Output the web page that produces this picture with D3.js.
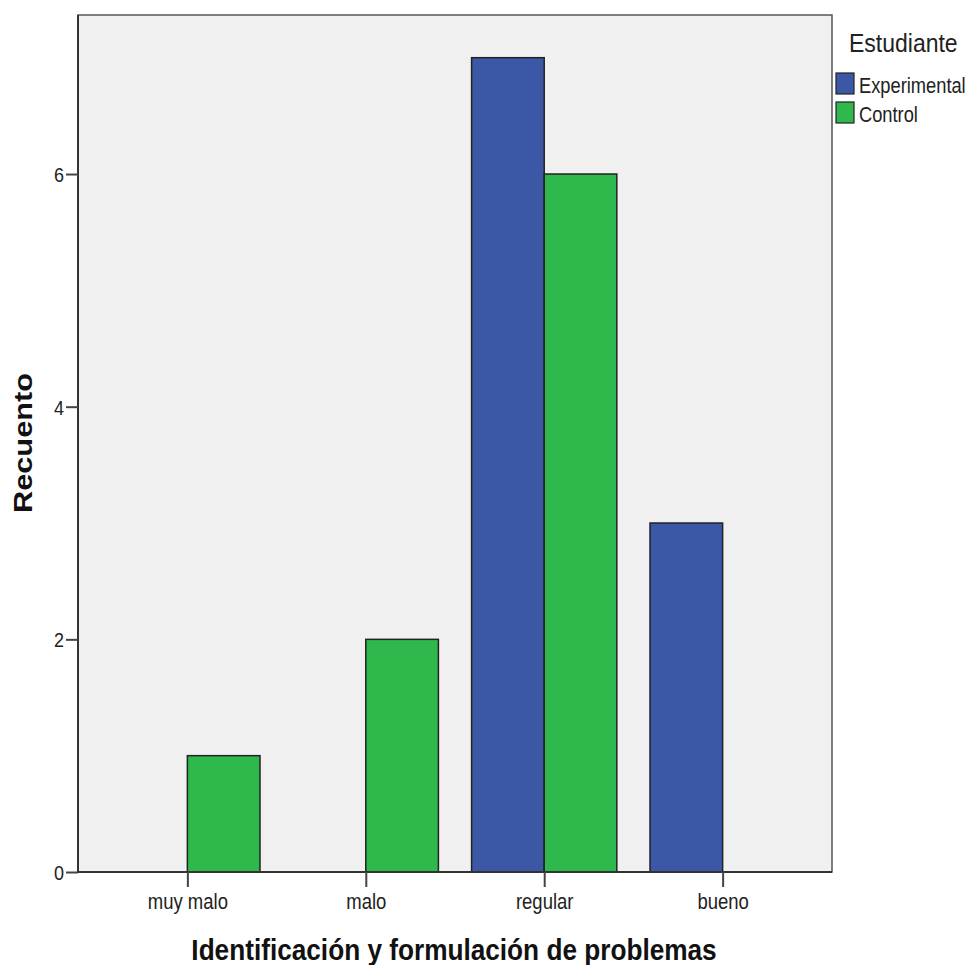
<!DOCTYPE html>
<html><head><meta charset="utf-8">
<script src="https://cdn.jsdelivr.net/npm/d3@7"></script>
<style>html,body{margin:0;padding:0;background:#fff;}svg{display:block;}</style>
</head><body>
<script>
const categories = ["muy malo", "malo", "regular", "bueno"];
const seriesNames = ["Experimental", "Control"];
const experimental = [0, 0, 7, 3];
const control = [1, 2, 6, 0];
const yTicks = [0, 2, 4, 6];
const colors = ["#3d57a7", "#2fb84b"];
const xTitle = "Identificación y formulación de problemas";
const yTitle = "Recuento";
const legendTitle = "Estudiante";

const W = 974, H = 965, SY = 1.16;
const pLeft = 78, pRight = 832, pTop = 15, pBottom = 872;
const svg = d3.select("body").append("svg").attr("width", W).attr("height", H);
const font = "'Liberation Sans', Arial, sans-serif";

const x = d3.scalePoint().domain(categories).range([pLeft, pRight]).padding(0.613);
const barW = x.step() * 0.407;
const y = d3.scaleLinear().domain([0, 7.367]).range([pBottom, pTop]);

svg.append("rect").attr("x", pLeft).attr("y", pTop).attr("width", pRight - pLeft).attr("height", pBottom - pTop)
  .attr("fill", "#f0f0f0").attr("stroke", "#555").attr("stroke-width", 1.5);

const series = [experimental, control];
series.forEach((vals, si) => {
  svg.append("g").selectAll("rect").data(categories.map((c, i) => ({c, v: vals[i]})).filter(d => d.v > 0))
    .join("rect")
    .attr("x", d => x(d.c) + (si === 0 ? -barW : 0))
    .attr("y", d => y(d.v))
    .attr("width", barW)
    .attr("height", d => y(0) - y(d.v))
    .attr("fill", colors[si]).attr("stroke", "#222").attr("stroke-width", 1.5);
});

// y axis
const gy = svg.append("g").attr("transform", `translate(${pLeft},0)`)
  .call(d3.axisLeft(y).tickValues(yTicks).tickSize(12).tickPadding(3).tickFormat(d3.format("d")));
gy.select(".domain").attr("stroke", "#333").attr("stroke-width", 2).attr("d", `M0,${pTop}V${pBottom}`);
gy.selectAll(".tick line").attr("stroke", "#444").attr("stroke-width", 2);
gy.selectAll(".tick text").attr("font-family", font).attr("font-size", 18).attr("fill", "#222")
  .attr("x", null).attr("dy", null)
  .attr("transform", `translate(-14,0) scale(1,${SY}) translate(0,6.5)`);

// x axis
const gx = svg.append("g").attr("transform", `translate(0,${pBottom})`)
  .call(d3.axisBottom(x).tickSize(15).tickPadding(0));
gx.select(".domain").attr("stroke", "#333").attr("stroke-width", 2).attr("d", `M${pLeft},0H${pRight}`);
gx.selectAll(".tick line").attr("stroke", "#444").attr("stroke-width", 2);
gx.selectAll(".tick text").attr("font-family", font).attr("font-size", 18.5).attr("fill", "#222")
  .attr("y", null).attr("dy", null)
  .attr("transform", `translate(0,37) scale(1,${SY})`);

// titles
svg.append("text").attr("font-family", font).attr("font-weight", "bold").attr("font-size", 26.2)
  .attr("text-anchor", "middle").attr("fill", "#111")
  .attr("transform", `translate(${(191 + 717) / 2},960) scale(1,${SY})`).text(xTitle);
svg.append("text").attr("font-family", font).attr("font-weight", "bold").attr("font-size", 26.5)
  .attr("text-anchor", "middle").attr("fill", "#111")
  .attr("transform", `translate(32,443) rotate(-90) scale(${SY},1)`).text(yTitle);

// legend
svg.append("text").attr("font-family", font).attr("font-size", 23).attr("fill", "#222")
  .attr("transform", `translate(849,52) scale(1,${SY})`).text(legendTitle);
seriesNames.forEach((n, i) => {
  const yy = 73 + i * 29;
  svg.append("rect").attr("x", 836).attr("y", yy).attr("width", 18).attr("height", 21)
    .attr("fill", colors[i]).attr("stroke", "#222").attr("stroke-width", 1.2);
  svg.append("text").attr("font-family", font).attr("font-size", 18.3).attr("fill", "#222")
    .attr("transform", `translate(859,${yy + 20}) scale(1,${SY})`).text(n);
});
</script>
</body></html>
